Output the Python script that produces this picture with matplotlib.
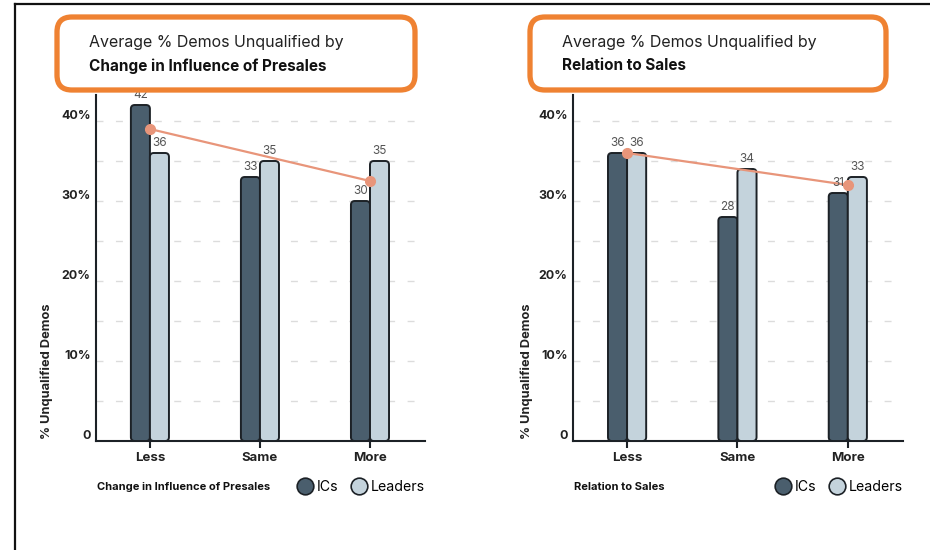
import matplotlib.pyplot as plt
import numpy as np
from matplotlib.patches import FancyBboxPatch
from matplotlib.lines import Line2D
from matplotlib.transforms import ScaledTranslation

plt.rcParams['font.family'] = ['Inter', 'DejaVu Sans']

# data
categories = ['Less', 'Same', 'More']
influence_ics = [42, 33, 30]
influence_leaders = [36, 35, 35]
relation_ics = [36, 28, 31]
relation_leaders = [36, 34, 33]

titles = [('Average % Demos Unqualified by', 'Change in Influence of Presales'),
          ('Average % Demos Unqualified by', 'Relation to Sales')]
xlabels = ['Change in Influence of Presales', 'Relation to Sales']
ylabel = '% Unqualified Demos'
yticks = [0, 10, 20, 30, 40]
ytick_labels = ['0', '10%', '20%', '30%', '40%']

ic_color = '#4a5e6d'
leader_color = '#c4d3dc'
edge_color = '#1c2126'
trend_color = '#e8957a'
orange = '#ef8232'

W, H = 930, 550
fig = plt.figure(figsize=(W / 100, H / 100), dpi=100)


def px(x0, y0, x1, y1):
    # pixel box (top-left origin) -> figure fraction rect
    return [x0 / W, 1 - y1 / H, (x1 - x0) / W, (y1 - y0) / H]


def rounded_bars(ax, rects, aspect):
    for r in rects:
        x, y = r.get_xy()
        w, h = r.get_width(), r.get_height()
        fc = r.get_facecolor()
        r.remove()
        p = FancyBboxPatch((x, y), w, h,
                           boxstyle='round,pad=0,rounding_size=0.035',
                           mutation_aspect=aspect, fc=fc, ec=edge_color,
                           lw=1.4, zorder=3)
        ax.add_patch(p)


def draw_panel(ax_rect, ics, leaders, title, xlabel, box, legend_x, ylab_x):
    ax = fig.add_axes(ax_rect)
    x = np.arange(len(categories))
    bw = 0.173
    ax.set_xlim(-0.49, 2.5)
    ax.set_ylim(0, 43.25)

    for g in np.arange(5, 45, 5):
        ax.axhline(g, color='#dcdcdc', lw=1, dashes=(5, 9), zorder=0)

    b1 = ax.bar(x - bw / 2, ics, bw, color=ic_color)
    b2 = ax.bar(x + bw / 2, leaders, bw, color=leader_color)
    # px per x unit / px per y unit
    aspect = (ax_rect[2] * W / 2.99) / (ax_rect[3] * H / 43.25)
    rounded_bars(ax, list(b1) + list(b2), aspect)

    for xi, v in zip(x - bw / 2, ics):
        ax.annotate(str(v), (xi, v), xytext=(0, 3), textcoords='offset points',
                    ha='center', va='bottom', fontsize=8.5, color='#555555', zorder=5)
    for xi, v in zip(x + bw / 2, leaders):
        ax.annotate(str(v), (xi, v), xytext=(0, 3), textcoords='offset points',
                    ha='center', va='bottom', fontsize=8.5, color='#555555', zorder=5)

    # average of both groups at the first and last category
    avg = [(a + b) / 2 for a, b in zip(ics, leaders)]
    ax.plot([x[0], x[-1]], [avg[0], avg[-1]], color=trend_color, lw=1.6,
            marker='o', markersize=7, zorder=4)

    for s in ['top', 'right']:
        ax.spines[s].set_visible(False)
    for s in ['left', 'bottom']:
        ax.spines[s].set_color(edge_color)
        ax.spines[s].set_linewidth(1.5)

    ax.set_xticks(x)
    ax.set_xticklabels(categories, fontsize=9.5, fontweight='bold', color='#222222')
    ax.tick_params(axis='x', length=5, width=1.5, color=edge_color, pad=3)
    ax.set_yticks(yticks)
    ax.set_yticklabels(ytick_labels, fontsize=9, fontweight='bold', color='#222222')
    ax.tick_params(axis='y', length=0, pad=4)
    off = ScaledTranslation(0, 0.065, fig.dpi_scale_trans)
    for lab in ax.get_yticklabels():
        lab.set_transform(lab.get_transform() + off)

    fig.text(ylab_x / W, 1 - 371 / H, ylabel, rotation=90, ha='center', va='center',
             fontsize=9.3, fontweight='bold', color='#222222')

    # legend row
    fig.text(ax_rect[0] + 1 / W, 1 - 487 / H, xlabel, ha='left', va='center',
             fontsize=8, fontweight='bold', color='#111111')
    handles = [Line2D([], [], ls='', marker='o', markersize=12, mfc=ic_color, mec=edge_color, mew=1.2),
               Line2D([], [], ls='', marker='o', markersize=12, mfc=leader_color, mec=edge_color, mew=1.2)]
    fig.legend(handles, ['ICs', 'Leaders'], loc='center left',
               bbox_to_anchor=(legend_x / W, 1 - 487 / H), ncol=2, frameon=False,
               handletextpad=0.35, columnspacing=0.9, handlelength=1.0,
               fontsize=10.2, borderaxespad=0, borderpad=0)

    # title box
    bx = px(*box)
    fig.add_artist(FancyBboxPatch((bx[0], bx[1]), bx[2], bx[3],
                                  boxstyle='round,pad=0,rounding_size=0.016',
                                  mutation_aspect=W / H, transform=fig.transFigure,
                                  fc='white', ec=orange, lw=3.8))
    fig.text((box[0] + 32) / W, 1 - 43 / H, title[0], ha='left', va='center',
             fontsize=11.5, color='#222222')
    fig.text((box[0] + 32) / W, 1 - 66 / H, title[1], ha='left', va='center',
             fontsize=11, fontweight='bold', color='#111111')
    return ax


draw_panel(px(96, 95, 425, 441), influence_ics, influence_leaders, titles[0],
           xlabels[0], (57, 17, 415, 90), 298, 47)
draw_panel(px(573, 95, 903, 441), relation_ics, relation_leaders, titles[1],
           xlabels[1], (530, 17, 886, 90), 776, 527)

# outer frame (top and left edges)
fig.add_artist(Line2D([15 / W, 1], [1 - 4 / H, 1 - 4 / H], color='#111111', lw=1.6,
                      transform=fig.transFigure))
fig.add_artist(Line2D([15 / W, 15 / W], [0, 1 - 4 / H], color='#111111', lw=1.6,
                      transform=fig.transFigure))

fig.savefig('out.png', dpi=100)
